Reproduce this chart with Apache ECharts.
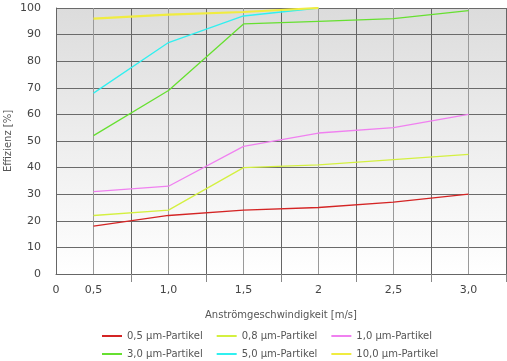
<!DOCTYPE html>
<html><head><meta charset="utf-8">
<script src="https://cdn.jsdelivr.net/npm/echarts@6/dist/echarts.min.js"></script>
<style>html,body{margin:0;padding:0;background:#fff}#c{width:507px;height:361px}</style>
</head><body><div id="c"></div>
<script>
// Category labels of the x axis (blank entries are the intermediate grid positions)
const xCategories = ['0','0,5','','1,0','','1,5','','2','','2,5','','3,0',''];
// Measured speeds (m/s) – these sit on the labelled categories
const speeds = ['0,5','1,0','1,5','2','2,5','3,0'];
const yTicks = [0,10,20,30,40,50,60,70,80,90,100];

const p05 = [18, 22, 24, 25, 27, 30];
const p08 = [22, 24, 40, 41, 43, 45];
const p10 = [31, 33, 48, 53, 55, 60];
const p30 = [52, 69, 94, 95, 96, 99];
const p50 = [68, 87, 97, 100];
const p100 = [96, 97.5, 98.5, 100];

const seriesNames = ['0,5 µm-Partikel','0,8 µm-Partikel','1,0 µm-Partikel','3,0 µm-Partikel','5,0 µm-Partikel','10,0 µm-Partikel'];
const seriesValues = [p05, p08, p10, p30, p50, p100];
const colors = ['#d42424','#d4f040','#f080f0','#66e030','#30f0f0','#f0ec40'];
const widths = [1.3,1.3,1.3,1.3,1.3,2.2];

function toCategoryData(vals){
  const out = xCategories.map(() => null);
  vals.forEach((v,i) => { const idx = xCategories.indexOf(speeds[i]); out[idx] = v; });
  return out;
}

const chart = echarts.init(document.getElementById('c'), null, {renderer:'canvas'});
const font = 'DejaVu Sans';
chart.setOption({
  animation:false,
  backgroundColor:'#fff',
  textStyle:{fontFamily:font},
  grid:{left:56, right:1, top:8, bottom:87, show:true, borderWidth:0, containLabel:false, outerBoundsMode:'none',
    backgroundColor:{type:'linear',x:0,y:0,x2:0,y2:1,colorStops:[{offset:0,color:'#dcdcdc'},{offset:1,color:'#ffffff'}]}},
  xAxis:{type:'category', data:xCategories, boundaryGap:false,
    name:'Anströmgeschwindigkeit [m/s]', nameLocation:'middle', nameGap:36, nameMoveOverlap:false,
    nameTextStyle:{color:'#555', fontSize:10, fontFamily:font},
    axisLine:{lineStyle:{color:'#666', width:1}},
    axisTick:{show:true, length:8, interval:(i,v)=> v==='' , lineStyle:{color:'#888'}},
    axisLabel:{interval:0, color:'#444', fontSize:11, margin:11, fontFamily:font},
    splitLine:{show:true, interval:0, lineStyle:{color:['#666','#9a9a9a'], width:1}}
  },
  yAxis:{type:'value', min:0, max:100, interval:10,
    name:'Effizienz [%]', nameLocation:'middle', nameGap:43, nameMoveOverlap:false,
    nameTextStyle:{color:'#555', fontSize:10, fontFamily:font},
    axisLine:{show:true, lineStyle:{color:'#666'}},
    axisTick:{show:false},
    axisLabel:{color:'#444', fontSize:11, margin:15, fontFamily:font, formatter:v=> yTicks.includes(v)? String(v):''},
    splitLine:{show:true, lineStyle:{color:'#6a6a6a', width:1}}
  },
  legend:[
    {data:seriesNames.slice(0,3), left:97, top:326, itemWidth:20, itemHeight:2, itemGap:14, icon:'rect',
     textStyle:{color:'#555', fontSize:10, fontFamily:font}},
    {data:seriesNames.slice(3), left:97, top:344, itemWidth:20, itemHeight:2, itemGap:14, icon:'rect',
     textStyle:{color:'#555', fontSize:10, fontFamily:font}}
  ],
  series: seriesNames.map((n,i)=>({
    name:n, type:'line', data:toCategoryData(seriesValues[i]), connectNulls:true,
    showSymbol:false, symbol:'none', color:colors[i],
    lineStyle:{color:colors[i], width:widths[i]}
  }))
});
</script></body></html>
